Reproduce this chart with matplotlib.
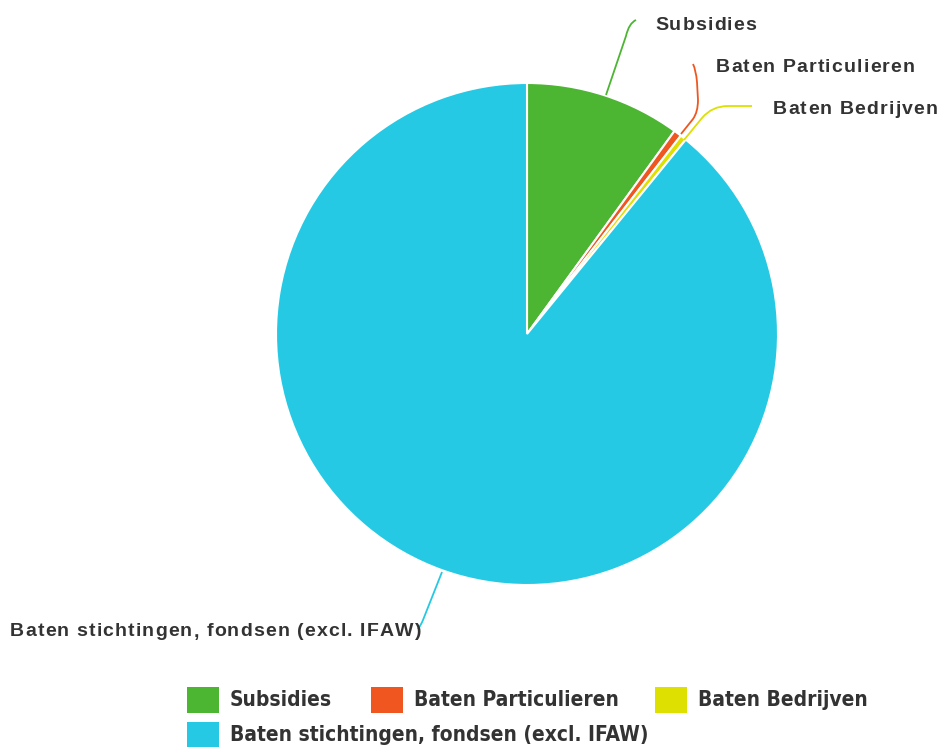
import matplotlib
matplotlib.use("Agg")
import matplotlib.pyplot as plt
from matplotlib.patches import Rectangle, PathPatch
from matplotlib.path import Path
from matplotlib.font_manager import FontProperties, findfont, get_font

categories = ["Subsidies", "Baten Particulieren", "Baten Bedrijven",
              "Baten stichtingen, fondsen (excl. IFAW)"]
values = [10.0, 0.5, 0.4, 89.1]
colors = ["#4cb532", "#f0561f", "#dde000", "#25c9e3"]

W, H = 946, 747
DPI = 100
fig = plt.figure(figsize=(W / DPI, H / DPI), dpi=DPI)
cx, cy, R = 527, 334, 251
ax = fig.add_axes([(cx - R) / W, (H - cy - R) / H, 2 * R / W, 2 * R / H])
ax.pie(values, colors=colors, startangle=90, counterclock=False, radius=1,
       wedgeprops=dict(edgecolor="white", linewidth=1.5))
ax.set_xlim(-1, 1)
ax.set_ylim(-1, 1)
ax.set_aspect("equal")
ax.axis("off")


def d(px, py):
    return ((px - cx) / R, (cy - py) / R)


M, L, C3 = Path.MOVETO, Path.LINETO, Path.CURVE3
leaders = [
    ([(606, 95), (626, 36), (629, 23), (636, 20)],
     [M, L, C3, C3]),
    ([(681, 134), (693, 119), (698, 112), (698, 100), (697, 82), (696, 70), (693, 64)],
     [M, L, C3, C3, L, C3, C3]),
    ([(684, 140), (702, 118), (712, 106), (728, 106), (752, 106)],
     [M, L, C3, C3, L]),
    ([(442, 572), (423, 620), (421, 625), (418, 629)],
     [M, L, C3, C3]),
]
for (pts, codes), col in zip(leaders, colors):
    path = Path([d(*q) for q in pts], codes)
    ax.add_patch(PathPatch(path, facecolor="none", edgecolor=col, lw=1.3, clip_on=False))

# tracked (letter-spaced) labels
LBL_SIZE = 14
TRACK = 1.15
lprop = FontProperties(family="Liberation Sans", weight="bold", size=LBL_SIZE)
ft = get_font(findfont(lprop))
ft.set_size(LBL_SIZE, DPI)


def advances(s):
    return [ft.load_char(ord(c)).linearHoriAdvance / 65536.0 for c in s]


def tracked_text(s, px, py, ha="left"):
    adv = advances(s)
    total = sum(adv) + TRACK * (len(s) - 1)
    x = px - total if ha == "right" else px
    for c, a in zip(s, adv):
        if c != " ":
            fig.text(x / W, (H - py) / H, c, ha="left", va="center",
                     fontproperties=lprop, color="#333333")
        x += a + TRACK


label_pos = [(655, 25, "left"), (716, 68, "left"), (773, 109, "left"), (421, 632, "right")]
for (px, py, ha), lab in zip(label_pos, categories):
    tracked_text(lab, px, py, ha)

# legend
leg_font = dict(family="DejaVu Sans", stretch="condensed", weight="bold",
                size=15, color="#333333")
leg_items = [(187, 700), (371, 700), (655, 700), (187, 735)]
for (lx, ly), lab, col in zip(leg_items, categories, colors):
    fig.patches.append(Rectangle((lx / W, (H - ly - 13) / H), 32 / W, 26 / H,
                                 transform=fig.transFigure, facecolor=col,
                                 edgecolor="none"))
    fig.text((lx + 43) / W, (H - ly) / H, lab, ha="left", va="center", **leg_font)

fig.savefig("out.png", dpi=DPI, facecolor="white")
